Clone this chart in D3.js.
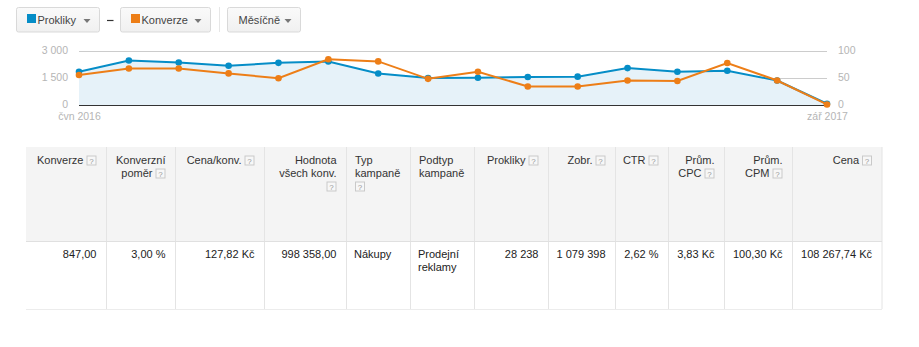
<!DOCTYPE html>
<html><head><meta charset="utf-8">
<script src="https://cdn.jsdelivr.net/npm/d3@7"></script>
<style>
html,body{margin:0;padding:0;background:#fff;}
svg{display:block;font-family:"Liberation Sans",Arial,sans-serif;}
</style></head>
<body>
<svg id="c" width="919" height="347"></svg>
<script>
// ---------- data ----------
const months = ["čvn 2016","čvc 2016","srp 2016","zář 2016","říj 2016","lis 2016","pro 2016","led 2017","úno 2017","bře 2017","dub 2017","kvě 2017","čvn 2017","čvc 2017","srp 2017","zář 2017"];
const prokliky = [1830, 2450, 2340, 2160, 2320, 2395, 1736, 1484, 1500, 1540, 1560, 2030, 1830, 1885, 1350, 70];
const konverze = [55, 67, 67, 58, 49, 84, 80, 48, 61, 34, 34, 45, 44, 77, 45, 1];
const leftTicks = [0, 1500, 3000];
const leftTickLabels = ["0", "1 500", "3 000"];
const rightTicks = [0, 50, 100];
const rightTickLabels = ["0", "50", "100"];
const xLabels = ["čvn 2016", "zář 2017"];
const buttonLabels = ["Prokliky", "Konverze", "Měsíčně"];

const headerLines = [["Konverze"],["Konverzní","poměr"],["Cena/konv."],["Hodnota","všech konv."],["Typ","kampaně"],["Podtyp","kampaně"],["Prokliky"],["Zobr."],["CTR"],["Prům.","CPC"],["Prům.","CPM"],["Cena"]];
const headerHelp = ["inline","inline","inline","newline","newline","none","inline","inline","inline","inline","inline","inline"];
const columnAlign = ["end","end","end","end","start","start","end","end","end","end","end","end"];
const rowValues = [["847,00"],["3,00 %"],["127,82 Kč"],["998 358,00"],["Nákupy"],["Prodejní","reklamy"],["28 238"],["1 079 398"],["2,62 %"],["3,83 Kč"],["100,30 Kč"],["108 267,74 Kč"]];

// ---------- setup ----------
const svg = d3.select("#c");
const BLUE = "#058dc7", ORANGE = "#ed7e17";

const defs = svg.append("defs");
const grad = defs.append("linearGradient").attr("id","btn").attr("x1",0).attr("y1",0).attr("x2",0).attr("y2",1);
grad.append("stop").attr("offset","0").attr("stop-color","#fafafa");
grad.append("stop").attr("offset","1").attr("stop-color","#f0f0f0");

// ---------- buttons ----------
const btns = [
  {x:16.5, w:83, label:buttonLabels[0], color:BLUE},
  {x:120.5, w:90, label:buttonLabels[1], color:ORANGE},
  {x:227.5, w:73, label:buttonLabels[2], color:null}
];
const bg = svg.append("g").attr("class","buttons");
btns.forEach(b => {
  const g = bg.append("g").attr("transform",`translate(${b.x},7.5)`);
  g.append("rect").attr("width",b.w).attr("height",24.5).attr("rx",2)
    .attr("fill","url(#btn)").attr("stroke","#d9d9d9");
  let tx = 11;
  if (b.color) {
    g.append("rect").attr("x",10.5).attr("y",6.5).attr("width",9).attr("height",9).attr("fill",b.color);
    tx = 21;
  }
  g.append("text").attr("x",tx).attr("y",16.5).attr("font-size",11).attr("fill","#444").text(b.label);
  g.append("path").attr("d",`M${b.w-16},11.5 h7 l-3.5,4 z`).attr("fill","#777");
});
bg.append("line").attr("x1",107).attr("x2",113.5).attr("y1",20.5).attr("y2",20.5).attr("stroke","#333").attr("stroke-width",1.2);
bg.append("line").attr("x1",219.5).attr("x2",219.5).attr("y1",7).attr("y2",32).attr("stroke","#e6e6e6");

// ---------- chart ----------
const x = d3.scalePoint().domain(months).range([79, 827]);
const yL = d3.scaleLinear().domain([0,3000]).range([105, 50.5]);
const yR = d3.scaleLinear().domain([0,100]).range([105, 50.5]);
const chart = svg.append("g");

// gridlines
chart.selectAll("line.grid").data(leftTicks.filter(d=>d>0)).join("line")
  .attr("x1",79).attr("x2",827).attr("y1",d=>Math.round(yL(d))+0.5).attr("y2",d=>Math.round(yL(d))+0.5)
  .attr("stroke","#cccccc");

// area
const area = d3.area().x((d,i)=>x(months[i])).y0(yL(0)).y1(d=>yL(d));
chart.append("path").datum(prokliky).attr("d",area).attr("fill","#e6f2f9");

// baseline
chart.append("line").attr("x1",79).attr("x2",827).attr("y1",105.5).attr("y2",105.5).attr("stroke","#333").attr("stroke-width",1.2);

// left axis labels
const axL = d3.axisLeft(yL).tickValues(leftTicks).tickFormat((d,i)=>leftTickLabels[i]).tickSize(0).tickPadding(0);
const gL = chart.append("g").attr("transform","translate(68,0)").call(axL);
gL.select(".domain").remove();
gL.selectAll("text").attr("font-size",10.5).attr("dy","0.27em").attr("fill","#b5b5b5").attr("font-family","Liberation Sans, Arial, sans-serif");

const axR = d3.axisRight(yR).tickValues(rightTicks).tickFormat((d,i)=>rightTickLabels[i]).tickSize(0).tickPadding(0);
const gR = chart.append("g").attr("transform","translate(838,0)").call(axR);
gR.select(".domain").remove();
gR.selectAll("text").attr("font-size",10.5).attr("dy","0.27em").attr("fill","#b5b5b5").attr("font-family","Liberation Sans, Arial, sans-serif");

// x labels
const axX = d3.axisBottom(x).tickValues([months[0], months[months.length-1]]).tickFormat((d,i)=>xLabels[i]).tickSize(0).tickPadding(0);
const gX = chart.append("g").attr("transform","translate(0,112.5)").call(axX);
gX.select(".domain").remove();
gX.selectAll("text").attr("font-size",10.5).attr("fill","#b5b5b5").attr("font-family","Liberation Sans, Arial, sans-serif");

// lines
const lineL = d3.line().x((d,i)=>x(months[i])).y(d=>yL(d));
const lineR = d3.line().x((d,i)=>x(months[i])).y(d=>yR(d));
chart.append("path").datum(prokliky).attr("d",lineL).attr("fill","none").attr("stroke",BLUE).attr("stroke-width",2);
chart.selectAll("circle.b").data(prokliky).join("circle").attr("class","b")
  .attr("cx",(d,i)=>x(months[i])).attr("cy",d=>yL(d)).attr("r",3.3).attr("fill",BLUE);
chart.append("path").datum(konverze).attr("d",lineR).attr("fill","none").attr("stroke",ORANGE).attr("stroke-width",2);
chart.selectAll("circle.o").data(konverze).join("circle").attr("class","o")
  .attr("cx",(d,i)=>x(months[i])).attr("cy",d=>yR(d)).attr("r",3.3).attr("fill",ORANGE);

// ---------- table ----------
const bounds = [26, 106.5, 175.5, 264.5, 346.5, 410.5, 474.5, 548.5, 615.5, 668.5, 724.5, 792.5, 882];
const hTop = 147, hBot = 241, bBot = 309;
const tbl = svg.append("g").attr("font-size",11);
tbl.append("rect").attr("x",26).attr("y",hTop).attr("width",856).attr("height",hBot-hTop).attr("fill","#f4f4f4");
// vertical separators
tbl.selectAll("line.v").data(bounds.slice(1)).join("line")
  .attr("x1",d=>d).attr("x2",d=>d).attr("y1",hTop).attr("y2",bBot).attr("stroke","#e4e4e4");
tbl.append("line").attr("x1",26).attr("x2",882).attr("y1",hBot+0.5).attr("y2",hBot+0.5).attr("stroke","#e0e0e0");
tbl.append("line").attr("x1",26).attr("x2",882).attr("y1",bBot+0.5).attr("y2",bBot+0.5).attr("stroke","#ececec");

function helpIcon(g, x0, yTop) {
  const h = g.append("g").attr("transform",`translate(${x0},${yTop})`);
  h.append("rect").attr("x",0.5).attr("y",0.5).attr("width",9).attr("height",9).attr("fill","#f7f7f7").attr("stroke","#c9c9c9");
  h.append("text").attr("x",5).attr("y",8).attr("text-anchor","middle").attr("font-size",8).attr("fill","#999").text("?");
}

headerLines.forEach((lines, c) => {
  const left = bounds[c], right = bounds[c+1];
  const al = columnAlign[c];
  const g = tbl.append("g");
  const help = headerHelp[c];
  lines.forEach((ln, k) => {
    const base = 164 + k*13;
    const isLast = k === lines.length-1;
    const inl = isLast && help === "inline";
    let tx;
    if (al === "end") tx = right - 10 - (inl ? 13 : 0);
    else tx = left + 8.5;
    const t = g.append("text").attr("x",tx).attr("y",base).attr("text-anchor",al).attr("fill","#333").text(ln);
    if (inl) {
      if (al === "end") helpIcon(g, right - 20, base - 8.5);
      else helpIcon(g, tx + t.node().getComputedTextLength() + 3, base - 8.5);
    }
  });
  if (help === "newline") {
    const base = 164 + lines.length*13;
    if (al === "end") helpIcon(g, right - 20, base - 8.5);
    else helpIcon(g, left + 8.5, base - 8.5);
  }
});

rowValues.forEach((lines, c) => {
  const left = bounds[c], right = bounds[c+1];
  const al = columnAlign[c];
  lines.forEach((ln, k) => {
    tbl.append("text").attr("x", al === "end" ? right - 10 : left + 7.5).attr("y", 258 + k*12.5)
      .attr("text-anchor", al).attr("fill","#222").text(ln);
  });
});
</script>
</body></html>
